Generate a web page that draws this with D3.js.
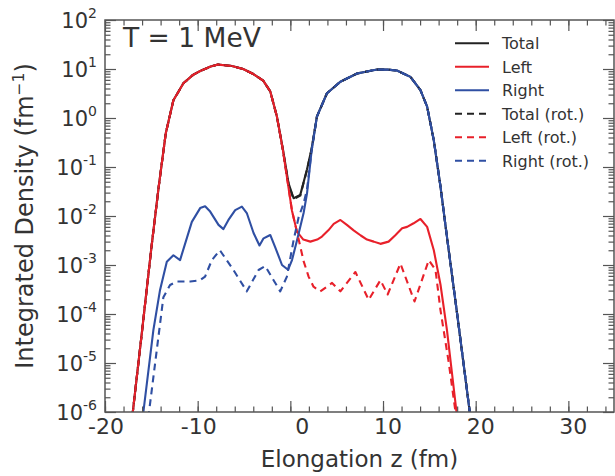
<!DOCTYPE html>
<html><head><meta charset="utf-8">
<script src="https://cdn.jsdelivr.net/npm/d3@7"></script>
<style>
html,body{margin:0;padding:0;background:#fff;}
text{font-family:"DejaVu Sans",sans-serif;fill:#333;}
</style></head>
<body><svg id="c" width="615" height="476"></svg>
<script>
// ---------- data ----------
const seriesNames = ["Total","Left","Right","Total (rot.)","Left (rot.)","Right (rot.)"];
const xTicks = [-20,-10,0,10,20,30];
const yTickExps = [-6,-5,-4,-3,-2,-1,0,1,2];

const zLeft = [-17.5,-17.0,-16.0,-15.0,-14.2,-13.44,-12.62,-11.54,-10.5,-9.73,-8.6,-7.8,-6.3,-5.09,-4.0,-2.93,-2.17,-1.45,-0.8,0.17,0.71,1.4,2.16,2.9,3.41,4.1,4.68,5.4,6.1,6.83,7.6,8.27,9.0,9.72,10.6,11.3,12.06,12.6,13.3,14.04,14.76,15.48,16.2,16.9,17.93,18.3];
const left  = [1.6e-7,1e-6,4.5e-5,2.2e-3,0.04,0.49,2.3,5.1,7.6,9.1,11.2,12.3,11.5,10.0,7.9,5.8,3.5,1.07,0.22,0.013,0.0048,0.0033,0.0030,0.0033,0.0038,0.0051,0.0069,0.0083,0.0066,0.0051,0.0040,0.0033,0.0030,0.0027,0.0030,0.0040,0.0056,0.0060,0.0071,0.0087,0.0060,0.0020,4e-4,4.7e-5,1e-6,2.5e-7];

const zRight = [-16.3,-15.86,-14.78,-14.06,-13.33,-12.62,-11.9,-10.63,-9.73,-9.2,-8.65,-7.75,-7.22,-6.68,-5.95,-5.23,-4.7,-3.97,-3.33,-2.89,-2.17,-1.63,-0.9,-0.25,0.18,0.72,1.43,1.8,2.3,2.87,3.95,5.4,7.2,9.36,10.5,11.5,12.96,14.04,14.76,15.48,16.2,16.92,18.0,19.36,19.8];
const right  = [2e-7,1e-6,4.7e-5,3.1e-4,1.17e-3,1.58e-3,1.26e-3,7.6e-3,0.0145,0.0158,0.0123,0.0066,0.0054,0.0083,0.0132,0.0155,0.0115,0.0045,0.0025,0.0035,0.0041,0.0023,0.0010,8e-4,0.00126,0.0032,0.0115,0.029,0.22,1.07,3.2,5.5,8.1,9.8,9.7,9.3,6.9,3.7,1.7,0.35,0.04,0.0035,1e-4,1e-6,2.3e-7];

const zTotal = [-17.5,-17.0,-16.0,-15.0,-14.2,-13.44,-12.62,-11.54,-10.5,-9.73,-8.6,-7.8,-6.3,-5.09,-4.0,-2.93,-2.17,-1.45,-0.8,-0.2,0.35,1.07,1.8,2.3,2.87,3.95,5.4,7.2,9.36,10.5,11.5,12.96,14.04,14.76,15.48,16.2,16.92,18.0,19.36,19.8];
const total  = [1.6e-7,1e-6,4.5e-5,2.2e-3,0.04,0.49,2.3,5.1,7.6,9.1,11.2,12.4,11.5,10.0,7.9,5.8,3.5,1.07,0.23,0.047,0.023,0.027,0.09,0.24,1.08,3.2,5.5,8.1,9.8,9.7,9.3,6.9,3.7,1.7,0.35,0.04,0.0035,1e-4,1e-6,2.3e-7];

const zTotalRot = zTotal;
const totalRot  = [1.6e-7,1e-6,4.5e-5,2.2e-3,0.04,0.49,2.3,5.1,7.6,9.1,11.2,12.3,11.5,10.0,7.9,5.8,3.5,1.07,0.22,0.045,0.022,0.026,0.088,0.23,1.07,3.2,5.5,8.1,9.8,9.7,9.3,6.9,3.7,1.7,0.35,0.04,0.0035,1e-4,1e-6,2.3e-7];

const zLeftRot = [-17.5,-17.0,-16.0,-15.0,-14.2,-13.44,-12.62,-11.54,-10.5,-9.73,-8.6,-7.8,-6.3,-5.09,-4.0,-2.93,-2.17,-1.45,-0.8,0.17,0.71,1.43,1.97,2.5,3.23,4.5,5.4,7.02,8.45,9.72,10.5,11.88,13.4,14.94,15.66,16.2,17.1,17.82,18.2];
const leftRot  = [1.6e-7,1e-6,4.5e-5,2.2e-3,0.04,0.49,2.3,5.1,7.6,9.1,11.2,12.3,11.5,10.0,7.9,5.8,3.5,1.07,0.22,0.013,0.0048,1.2e-3,5.8e-4,3.6e-4,2.9e-4,4.3e-4,2.9e-4,7.2e-4,1.95e-4,4.9e-4,2.5e-4,1.07e-3,1.8e-4,1.26e-3,8e-4,1.2e-4,1e-5,1e-6,2e-7];

const zRightRot = [-15.8,-15.25,-13.7,-12.98,-12.25,-10.8,-9.73,-9.2,-8.47,-7.6,-6.14,-4.7,-3.43,-2.71,-1.81,-1.09,-0.37,0.35,0.9,1.43,1.8,2.3,2.87,3.95,5.4,7.2,9.36,10.5,11.5,12.96,14.04,14.76,15.48,16.2,16.92,18.0,19.36,19.8];
const rightRot  = [1.4e-7,1e-6,2.2e-4,3.9e-4,4.6e-4,4.6e-4,4.9e-4,5.8e-4,1.26e-3,2.0e-3,7.9e-4,2.9e-4,7.9e-4,9.5e-4,4.9e-4,2.9e-4,5.8e-4,3.2e-3,0.0095,0.018,0.035,0.22,1.07,3.2,5.5,8.1,9.8,9.7,9.3,6.9,3.7,1.7,0.35,0.04,0.0035,1e-4,1e-6,2.3e-7];

// ---------- chart ----------
const W=615,H=476;
const m={l:105,r:614,t:20,b:412};
const svg=d3.select("#c");
svg.append("rect").attr("width",W).attr("height",H).attr("fill","#fff");
const x=d3.scaleLinear().domain([-20,35]).range([m.l,m.r+0.7]);
const y=d3.scaleLog().domain([1e-6,1e2]).range([m.b,m.t]);

const colors={Total:"#222222",Left:"#e8202a",Right:"#2f4fa3"};
const series=[
 {name:"Total",z:zTotal,v:total,c:colors.Total,dash:null},
 {name:"Left",z:zLeft,v:left,c:colors.Left,dash:null},
 {name:"Right",z:zRight,v:right,c:colors.Right,dash:null},
 {name:"Total (rot.)",z:zTotalRot,v:totalRot,c:colors.Total,dash:"7,5"},
 {name:"Left (rot.)",z:zLeftRot,v:leftRot,c:colors.Left,dash:"7,5"},
 {name:"Right (rot.)",z:zRightRot,v:rightRot,c:colors.Right,dash:"7,5"}
];

svg.append("clipPath").attr("id","clip").append("rect")
  .attr("x",m.l).attr("y",m.t).attr("width",m.r-m.l).attr("height",m.b-m.t);

const line=d3.line().x(d=>x(d[0])).y(d=>y(d[1]));
const g=svg.append("g").attr("clip-path","url(#clip)");
series.forEach(s=>{
  const pts=s.z.map((z,i)=>[z,s.v[i]]);
  g.append("path").attr("d",line(pts)).attr("fill","none")
   .attr("stroke",s.c).attr("stroke-width",2.1)
   .attr("stroke-dasharray",s.dash)
   .attr("stroke-linejoin","round");
});

// axes
const axCol="#555";
const xMinor=d3.range(-20,35,2);
const yMinor=[];
for(let e=-6;e<2;e++) for(let k=2;k<10;k++) yMinor.push(k*Math.pow(10,e));
const yMajor=yTickExps.map(e=>Math.pow(10,e));

function styleAxis(sel){sel.select(".domain").remove();sel.selectAll("line").attr("stroke",axCol).attr("stroke-width",1.2);sel.selectAll("text").remove();}
svg.append("g").attr("transform",`translate(0,${m.b})`).call(d3.axisBottom(x).tickValues(xTicks).tickSize(-11)).call(styleAxis);
svg.append("g").attr("transform",`translate(0,${m.b})`).call(d3.axisBottom(x).tickValues(xMinor).tickSize(-5.5)).call(styleAxis);
svg.append("g").attr("transform",`translate(0,${m.t})`).call(d3.axisTop(x).tickValues(xTicks).tickSize(-11)).call(styleAxis);
svg.append("g").attr("transform",`translate(0,${m.t})`).call(d3.axisTop(x).tickValues(xMinor).tickSize(-5.5)).call(styleAxis);
svg.append("g").attr("transform",`translate(${m.l},0)`).call(d3.axisLeft(y).tickValues(yMajor).tickSize(-11)).call(styleAxis);
svg.append("g").attr("transform",`translate(${m.l},0)`).call(d3.axisLeft(y).tickValues(yMinor).tickSize(-5.5)).call(styleAxis);
svg.append("g").attr("transform",`translate(${m.r},0)`).call(d3.axisRight(y).tickValues(yMajor).tickSize(-11)).call(styleAxis);
svg.append("g").attr("transform",`translate(${m.r},0)`).call(d3.axisRight(y).tickValues(yMinor).tickSize(-5.5)).call(styleAxis);

svg.append("rect").attr("x",m.l).attr("y",m.t).attr("width",m.r-m.l).attr("height",m.b-m.t)
  .attr("fill","none").attr("stroke",axCol).attr("stroke-width",1.5);

// tick labels (right-aligned just past the tick, as in the reference)
xTicks.forEach(t=>{
  svg.append("text").attr("x",x(t)+19).attr("y",434).attr("text-anchor","end")
    .attr("font-size",22).text(String(t));
});
yTickExps.forEach(e=>{
  const t=svg.append("text").attr("x",97).attr("y",y(Math.pow(10,e))+7.5).attr("text-anchor","end").attr("font-size",21);
  t.append("tspan").text("10");
  t.append("tspan").attr("font-size",14).attr("dy",-10).text(String(e));
});

// axis labels
svg.append("text").attr("x",(m.l+m.r)/2).attr("y",467).attr("text-anchor","middle").attr("font-size",23).text("Elongation z (fm)");
const yl=svg.append("text").attr("transform",`translate(33,${(m.t+m.b)/2}) rotate(-90)`).attr("text-anchor","middle").attr("font-size",24);
yl.append("tspan").text("Integrated Density (fm");
yl.append("tspan").attr("font-size",15.5).attr("dy",-9.5).text("−1");
yl.append("tspan").attr("dy",9.5).text(")");

// title
svg.append("text").attr("x",123).attr("y",47).attr("font-size",26.5).text("T = 1 MeV");

// legend
series.forEach((s,i)=>{
  const yy=43.3+i*23.5;
  svg.append("line").attr("x1",455).attr("x2",489).attr("y1",yy).attr("y2",yy)
    .attr("stroke",s.c).attr("stroke-width",2.1).attr("stroke-dasharray",s.dash);
  svg.append("text").attr("x",502).attr("y",yy+5.8).attr("font-size",16).text(s.name);
});
</script></body></html>
